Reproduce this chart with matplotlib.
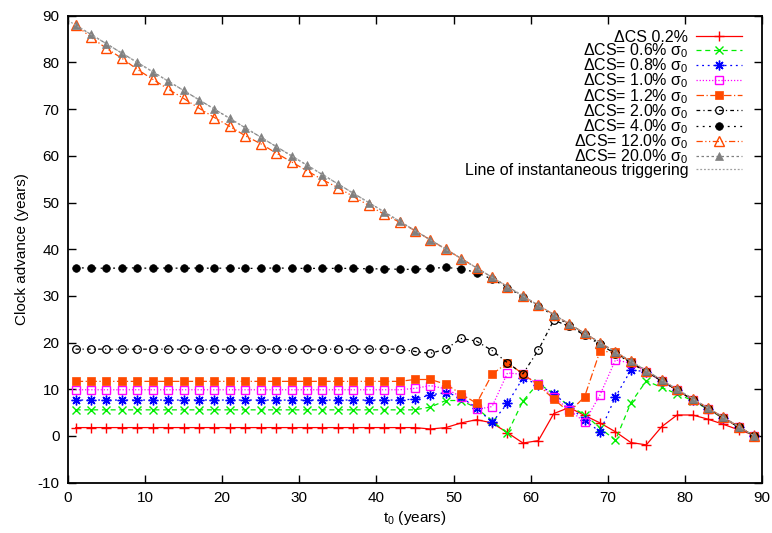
import matplotlib
matplotlib.use("Agg")
import matplotlib.pyplot as plt

t0 = [1, 3, 5, 7, 9, 11, 13, 15, 17, 19, 21, 23, 25, 27, 29, 31, 33, 35, 37, 39, 41, 43, 45,
      47, 49, 51, 53, 55, 57, 59, 61, 63, 65, 67, 69, 71, 73, 75, 77, 79, 81, 83, 85, 87, 89]

cs_02 = [1.8] * 23 + [1.5, 1.8, 2.8, 3.5, 2.8, 0.7, -1.5, -1.0, 4.8, 6.1, 4.4, 2.8, 0.9, -1.4, -1.9,
                      2.0, 4.5, 4.5, 3.6, 2.5, 1.3, 0.2]
cs_06 = [5.6] * 23 + [6.2, 7.6, 7.6, 6.0, 3.2, 0.6, 7.5, 11.3, 9.0, 6.4, 4.6, 1.7, -0.9, 7.1, 11.8,
                      10.4, 9.0, 7.6, 5.7, 3.8, 1.9, 0.0]
cs_08 = [7.7] * 22 + [7.9, 8.8, 9.3, 8.3, 6.0, 2.9, 7.0, 12.4, 11.0, 9.0, 6.4, 3.4, 0.9, 8.4, 14.1,
                      13.8, 11.8, 9.8, 7.8, 5.8, 3.9, 1.9, 0.0]
cs_10 = [9.9] * 22 + [10.2, 10.8, 10.1, 8.4, 5.7, 6.3, 13.5, 13.2, 11.1, 8.4, 5.6, 3.0, 8.8, 16.3,
                      15.6, 13.7, 11.8, 9.8, 7.8, 5.8, 3.9, 1.9, 0.0]
cs_12 = [11.7] * 22 + [12.1, 12.1, 11.1, 9.0, 7.0, 13.2, 15.7, 13.3, 10.9, 7.9, 5.1, 8.4, 18.2, 17.9,
                       15.8, 13.8, 11.8, 9.8, 7.8, 5.8, 3.9, 1.9, 0.0]
cs_20 = [18.6] * 22 + [18.1, 17.7, 18.6, 20.9, 20.3, 18.3, 15.7, 13.3, 18.4, 24.8, 23.5, 21.6, 19.6,
                       17.6, 15.7, 13.7, 11.8, 9.8, 7.8, 5.8, 3.9, 1.9, 0.0]
cs_40 = [36.0, 36.0, 35.9, 36.0, 36.0, 35.9, 36.0, 35.9, 36.0, 35.9, 36.0, 35.9, 35.9, 36.0, 35.9,
         35.9, 35.9, 35.9, 35.9, 35.8, 35.8, 35.7, 35.7, 35.9, 36.1, 35.8, 35.0, 33.6, 31.8, 29.8,
         27.8, 25.8, 23.8, 21.8, 19.8, 17.8, 15.8, 13.8, 11.8, 9.8, 7.8, 5.8, 3.9, 1.9, 0.0]
cs_120 = [88.0, 85.4, 83.0, 80.9, 78.5, 76.4, 74.3, 72.3, 70.2, 68.2, 66.3, 64.3, 62.6, 60.6, 58.7,
          56.8, 54.9, 53.2, 51.3, 49.4, 47.5, 45.8, 44.0, 42.0, 40.0, 38.0, 36.0, 34.0, 32.0, 30.0,
          28.0, 26.0, 24.0, 22.0, 20.0, 18.0, 16.0, 14.0, 12.0, 10.0, 8.0, 6.0, 4.0, 2.0, 0.0]
cs_200 = [88, 86, 84, 82, 80, 78, 76, 74, 72, 70, 68, 66, 64, 62, 60, 58, 56, 54, 52, 50, 48, 46, 44,
          42, 40, 38, 36, 34, 32, 30, 28, 26, 24, 22, 20, 18, 16, 14, 12, 10, 8, 6, 4, 2, 0]
inst_x = [0, 89]
inst_y = [89, 0]

labels = ["ΔCS 0.2%", "ΔCS= 0.6% σ$_0$", "ΔCS= 0.8% σ$_0$", "ΔCS= 1.0% σ$_0$",
          "ΔCS= 1.2% σ$_0$", "ΔCS= 2.0% σ$_0$", "ΔCS= 4.0% σ$_0$", "ΔCS= 12.0% σ$_0$",
          "ΔCS= 20.0% σ$_0$", "Line of instantaneous triggering"]

plt.rcParams['font.family'] = ['Liberation Sans', 'DejaVu Sans']
plt.rcParams['mathtext.fontset'] = 'custom'
plt.rcParams['mathtext.rm'] = 'Liberation Sans'
plt.rcParams['mathtext.it'] = 'Liberation Sans'
plt.rcParams['axes.unicode_minus'] = False

fig = plt.figure(figsize=(7.72, 5.33), dpi=100)
ax = fig.add_axes([0.088, 0.0944, 0.899, 0.876])

ORANGE = '#ff4a00'
lw = 0.9

ax.plot(t0, cs_02, color='#ff0000', ls='-', lw=lw, marker='+', ms=7, mew=1.0, label=labels[0])
ax.plot(t0, cs_06, color='#00ee00', ls=(0, (4, 3)), lw=lw, marker='x', ms=6, mew=1.0, label=labels[1])
ax.plot(t0, cs_08, color='#0000ff', ls=(0, (1.5, 3)), lw=lw, marker=(8, 2, 0), ms=7, mew=1.0, label=labels[2])
ax.plot(t0, cs_10, color='#ff00ff', ls=(0, (1, 1.5)), lw=lw, marker='s', ms=6, mfc='none', mew=1.0, label=labels[3])
ax.plot(t0, cs_12, color=ORANGE, ls=(0, (6, 2, 1, 2)), lw=lw, marker='s', ms=6, mew=0.5, label=labels[4])
ax.plot(t0, cs_20, color='#000000', ls=(0, (3, 2.5, 1, 2.5)), lw=lw, marker='o', ms=5.5, mfc='none', mew=0.9, label=labels[5])
ax.plot(t0, cs_40, color='#000000', ls=(0, (1.5, 3.5)), lw=lw, marker='o', ms=5.5, mew=0.5, label=labels[6])
ax.plot(t0, cs_120, color=ORANGE, ls=(0, (5, 2, 1, 2, 1, 2)), lw=lw, marker='^', ms=7, mfc='none', mew=1.0, label=labels[7])
ax.plot(t0, cs_200, color='#808080', ls=(0, (2, 2)), lw=lw, marker='^', ms=6, mew=0.5, label=labels[8])
ax.plot(inst_x, inst_y, color='#a0a0a0', ls=(0, (1.5, 1.5)), lw=lw, label=labels[9])

ax.set_xlim(0, 90)
ax.set_ylim(-10, 90)
ax.set_xticks(range(0, 91, 10))
ax.set_yticks(range(-10, 91, 10))
ax.tick_params(direction='in', length=6, width=1.0, top=True, right=True, labelsize=11, pad=6)
for s in ax.spines.values():
    s.set_linewidth(1.3)

ax.set_xlabel("t$_0$ (years)", fontsize=11, labelpad=3)
ax.set_ylabel("Clock advance (years)", fontsize=11, labelpad=6)

leg = ax.legend(loc='upper right', bbox_to_anchor=(0.971, 0.970), frameon=False, markerfirst=False,
                fontsize=11.5, handlelength=2.9, handletextpad=0.45, labelspacing=-0.22,
                borderaxespad=0.0, borderpad=0.0)

fig.savefig("out.png", dpi=100)
